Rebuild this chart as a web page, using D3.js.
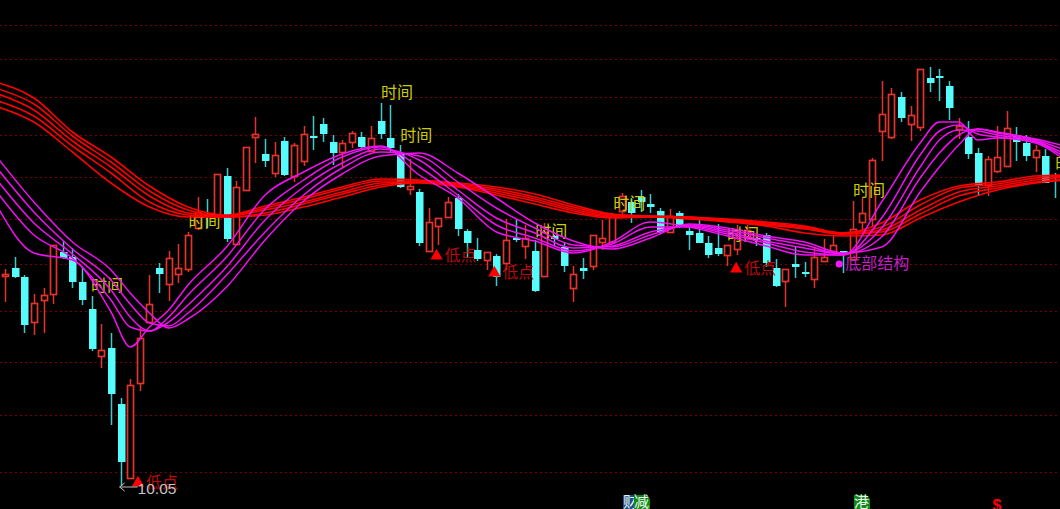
<!DOCTYPE html>
<html><head><meta charset="utf-8">
<style>html,body{margin:0;padding:0;background:#000;overflow:hidden}svg{display:block}</style>
<script src="https://d3js.org/d3.v7.min.js"></script></head><body>
<svg id="c" width="1060" height="509"></svg>
<script>
const highs=[12.22,12.34,12.16,11.97,12.03,12.46,12.50,12.43,12.24,11.95,11.67,11.58,10.93,11.12,11.64,12.16,12.28,12.40,12.47,12.59,12.94,12.92,13.17,13.23,13.10,13.44,13.74,13.52,13.49,13.54,13.48,13.65,13.75,13.73,13.56,13.51,13.60,13.59,13.65,13.88,13.86,13.46,13.32,13.02,12.83,12.73,12.94,12.97,12.62,12.53,12.39,12.37,12.72,12.71,12.66,12.51,12.68,12.56,12.49,12.25,12.33,12.56,12.71,12.78,12.98,12.93,13.01,12.97,12.83,12.82,12.80,12.66,12.71,12.55,12.67,12.46,12.66,12.66,12.54,12.58,12.32,12.22,12.45,12.29,12.43,12.52,12.56,12.40,12.90,12.93,13.33,14.10,14.03,13.99,13.85,14.22,14.24,14.22,14.10,13.73,13.70,13.43,13.35,13.65,13.80,13.64,13.56,13.46,13.42,13.18];
const lows=[11.89,12.13,11.58,11.56,11.58,11.87,12.32,12.03,11.86,11.40,11.23,10.66,10.05,10.13,11.00,11.68,11.98,11.90,12.08,12.19,12.61,12.63,12.75,12.49,12.47,13.01,13.28,13.24,13.14,13.15,13.09,13.25,13.41,13.49,13.26,13.24,13.43,13.42,13.40,13.52,13.38,13.03,12.96,12.45,12.40,12.46,12.74,12.55,12.34,12.30,12.21,12.05,12.21,12.49,12.32,11.99,12.14,12.45,12.19,11.89,12.12,12.21,12.41,12.49,12.76,12.68,12.79,12.78,12.57,12.58,12.63,12.41,12.48,12.33,12.35,12.25,12.36,12.51,12.45,12.24,12.04,11.84,12.13,12.14,12.03,12.30,12.38,12.18,12.32,12.59,12.64,13.30,13.52,13.69,13.50,13.60,13.99,13.90,13.71,13.52,13.32,12.95,12.95,13.18,13.25,13.30,13.30,13.19,13.08,12.93];
const opens=[12.15,12.23,12.14,11.69,11.91,11.97,12.39,12.34,12.09,11.82,11.35,11.43,10.87,10.13,11.08,11.69,12.23,12.07,12.17,12.22,12.63,12.77,12.75,13.15,12.47,13.01,13.54,13.37,13.18,13.50,13.15,13.30,13.55,13.67,13.49,13.39,13.49,13.54,13.40,13.70,13.53,13.38,13.02,12.99,12.40,12.65,12.74,12.93,12.60,12.41,12.31,12.35,12.28,12.53,12.45,12.40,12.15,12.55,12.44,12.03,12.23,12.25,12.49,12.49,12.80,12.89,12.94,12.87,12.80,12.59,12.78,12.60,12.58,12.48,12.43,12.36,12.42,12.54,12.53,12.56,12.23,12.10,12.27,12.19,12.12,12.30,12.40,12.40,12.32,12.69,12.72,13.60,13.54,13.94,13.67,13.64,14.13,14.15,14.05,13.62,13.54,13.38,13.06,13.20,13.25,13.56,13.48,13.34,13.35,13.16];
const closes=[12.17,12.14,11.66,11.88,11.96,12.46,12.33,12.09,11.91,11.42,11.41,10.97,10.29,11.06,11.53,11.87,12.17,12.33,12.23,12.56,12.79,12.75,13.17,12.52,13.04,13.44,13.57,13.30,13.36,13.16,13.46,13.57,13.53,13.57,13.38,13.48,13.58,13.44,13.53,13.57,13.43,13.04,13.05,12.48,12.69,12.73,12.89,12.62,12.48,12.32,12.39,12.14,12.51,12.51,12.53,12.00,12.59,12.52,12.25,12.17,12.20,12.56,12.53,12.76,12.95,12.78,12.89,12.84,12.59,12.75,12.64,12.56,12.48,12.36,12.37,12.46,12.53,12.61,12.52,12.28,12.05,12.22,12.24,12.17,12.34,12.34,12.46,12.37,12.62,12.78,13.31,13.77,13.97,13.73,13.76,14.22,14.08,14.14,13.83,13.65,13.37,13.06,13.32,13.34,13.63,13.49,13.35,13.41,13.08,13.14];

const magentaIdx=[-1,3,7,11,13,15,17,19,23,27,31,35,39,43,47,51,55,59,63,67,71,75,79,83,87,91,95,97,99,101,103,107,110];
const magentaA=[12.88,12.38,12.31,11.79,11.44,11.64,11.81,12.06,12.44,12.96,13.19,13.37,13.45,13.16,12.93,12.59,12.50,12.38,12.49,12.69,12.64,12.55,12.45,12.36,12.36,12.89,13.48,13.69,13.69,13.51,13.53,13.48,13.31];
const magentaB=[13.01,12.56,12.33,11.91,11.64,11.60,11.74,11.96,12.34,12.82,13.11,13.34,13.44,13.24,12.96,12.66,12.53,12.40,12.47,12.64,12.64,12.57,12.48,12.39,12.36,12.73,13.36,13.60,13.66,13.57,13.54,13.49,13.34];
const magentaC=[13.13,12.68,12.37,12.01,11.74,11.60,11.69,11.86,12.24,12.71,13.04,13.28,13.42,13.31,13.01,12.73,12.58,12.43,12.45,12.59,12.65,12.59,12.50,12.43,12.37,12.63,13.24,13.51,13.61,13.60,13.56,13.50,13.37];
const magentaD=[13.25,12.79,12.42,12.11,11.87,11.68,11.65,11.78,12.16,12.59,12.96,13.23,13.39,13.35,13.09,12.83,12.63,12.46,12.44,12.56,12.66,12.61,12.53,12.46,12.37,12.54,13.13,13.38,13.56,13.62,13.58,13.51,13.41];
const magentaE=[13.36,12.89,12.49,12.21,11.98,11.78,11.63,11.72,12.04,12.51,12.90,13.17,13.35,13.38,13.18,12.93,12.68,12.50,12.42,12.53,12.67,12.63,12.55,12.49,12.38,12.44,12.99,13.24,13.46,13.62,13.59,13.52,13.45];

const redIdx=[-1,3,7,11,15,19,23,27,31,35,39,43,47,51,55,59,63,67,71,75,79,83,87,91,95,99,103,107,110];
const redA=[14.09,13.93,13.59,13.34,13.05,12.84,12.76,12.85,12.94,13.04,13.12,13.11,13.08,13.04,12.97,12.86,12.77,12.75,12.74,12.72,12.69,12.65,12.58,12.68,12.91,13.05,13.09,13.15,13.16];
const redB=[14.03,13.87,13.55,13.29,13.00,12.81,12.75,12.83,12.92,13.02,13.10,13.10,13.07,13.02,12.94,12.84,12.76,12.75,12.74,12.71,12.68,12.64,12.58,12.64,12.86,13.03,13.07,13.13,13.15];
const redC=[13.98,13.81,13.50,13.24,12.95,12.78,12.75,12.81,12.89,12.99,13.08,13.09,13.06,13.00,12.92,12.82,12.75,12.74,12.73,12.71,12.67,12.63,12.57,12.61,12.81,12.99,13.05,13.11,13.14];
const redD=[13.91,13.75,13.45,13.18,12.89,12.76,12.74,12.78,12.87,12.97,13.06,13.09,13.05,12.98,12.90,12.80,12.74,12.74,12.73,12.70,12.66,12.62,12.57,12.59,12.77,12.95,13.03,13.09,13.12];
const redE=[13.85,13.69,13.39,13.08,12.84,12.74,12.74,12.76,12.84,12.94,13.04,13.08,13.04,12.96,12.87,12.78,12.73,12.74,12.72,12.69,12.65,12.58,12.55,12.56,12.73,12.89,13.01,13.08,13.11];

const gridPrices=[14.66,14.32,13.94,13.56,13.14,12.72,12.27,11.80,11.29,10.76,10.19];
const timeMarkers=[[40.7,13.99],[42.7,13.56],[20.7,12.70],[10.6,12.06],[56.7,12.60],[64.8,12.88],[76.6,12.57],[89.7,13.01],[110.7,13.28]];
const lowMarkers=[[44.8,12.35],[50.8,12.18],[75.9,12.22],[13.8,10.08]];
const baseMarker=[86.6,12.27];
const lowestPrice=10.05;

const W=1060,H=509;
const x=d3.scaleLinear().domain([0,109]).range([5,1055]);
const y=d3.scaleLinear().domain([9.82,14.91]).range([H,0]);
const svg=d3.select('#c');
const CJK='"Noto Sans CJK SC","Noto Sans",sans-serif';
svg.append('rect').attr('width',W).attr('height',H).attr('fill','#000');

svg.append('g').selectAll('line').data(gridPrices).join('line')
  .attr('x1',0).attr('x2',W)
  .attr('y1',d=>Math.round(y(d))+.5).attr('y2',d=>Math.round(y(d))+.5)
  .attr('stroke','#7a0000').attr('stroke-width',1.2).attr('stroke-dasharray','2 3');

const RED='#e2342c',CY='#54fcfc';
const g=svg.append('g');
d3.range(highs.length).forEach(i=>{
  const up=closes[i]>=opens[i];
  const cx=Math.round(x(i));
  const top=y(Math.max(opens[i],closes[i])),bot=y(Math.min(opens[i],closes[i]));
  g.append('line').attr('x1',cx+.5).attr('x2',cx+.5).attr('y1',y(highs[i])).attr('y2',y(lows[i]))
    .attr('stroke',up?RED:'#3ccaca').attr('stroke-width',1.5);
  const r=g.append('rect').attr('x',up?cx-2.5:cx-3).attr('width',up?6:7.5)
    .attr('y',up?Math.round(top)+.5:Math.round(top)).attr('height',Math.max(Math.round(bot-top),up?1:2));
  if(up) r.attr('fill','#000').attr('stroke',RED).attr('stroke-width',1.7);
  else r.attr('fill',CY);
});

const text=(px,py,s,col,anchor)=>svg.append('text').attr('x',px).attr('y',py).attr('dy','.36em')
  .attr('text-anchor',anchor||'start').attr('font-family',CJK).attr('font-size',16).attr('fill',col).text(s);
timeMarkers.forEach(d=>text(x(d[0]),y(d[1]),'时间','#cccc00','middle'));
const tri=d3.symbol().type(d3.symbolTriangle).size(66);
lowMarkers.forEach(d=>{
  svg.append('path').attr('d',tri()).attr('transform',`translate(${x(d[0])},${y(d[1])})`).attr('fill','#ff0000');
  text(x(d[0])+8,y(d[1])-1,'低点','#bb0a0a');
});
svg.append('circle').attr('cx',x(baseMarker[0])).attr('cy',y(baseMarker[1])).attr('r',3.5).attr('fill','#ff18ff');
text(x(baseMarker[0])+6,y(baseMarker[1])-1,'底部结构','#c81ec8');

const lineGen=(idx)=>d3.line().x((d,i)=>x(idx[i])).y(d=>y(d)).curve(d3.curveMonotoneX);
[redA,redB,redC,redD,redE].forEach(s=>svg.append('path').attr('d',lineGen(redIdx)(s))
  .attr('fill','none').attr('stroke','#ff0000').attr('stroke-width',1.6));
[magentaA,magentaB,magentaC,magentaD,magentaE].forEach(s=>svg.append('path').attr('d',lineGen(magentaIdx)(s))
  .attr('fill','none').attr('stroke','#f010f0').attr('stroke-width',1.5));

const ly=y(lowestPrice)+1;
const ax=x(12)-1;
svg.append('path').attr('d',`M${ax},${ly}H${ax+18}M${ax+5},${ly-4}L${ax},${ly}L${ax+5},${ly+4}`)
  .attr('fill','none').attr('stroke','#c0c0c0').attr('stroke-width',1);
svg.append('text').attr('x',ax+18).attr('y',ly+1).attr('dy','.36em').attr('font-family','"Liberation Sans",Arial,sans-serif')
  .attr('font-size',15.5).attr('fill','#c4c4c4').text(d3.format('.2f')(lowestPrice));

const badge=(bx,w,col,s)=>{
  svg.append('path').attr('d',`M${bx},495H${bx+w-4}L${bx+w},499V509H${bx}Z`).attr('fill',col);
  svg.append('text').attr('x',bx).attr('y',507).attr('font-family',CJK).attr('font-size',15).attr('fill','#f0f6f0').text(s);
};
badge(623,14,'#1c4f86','财');
badge(634,16,'#0d8a14','减');
badge(854,16,'#0d8a14','港');
svg.append('text').attr('x',992.5).attr('y',511).attr('font-family','"Liberation Sans",sans-serif').attr('font-weight','bold')
  .attr('font-size',16).attr('fill','#ff0000').text('$');
</script></body></html>
